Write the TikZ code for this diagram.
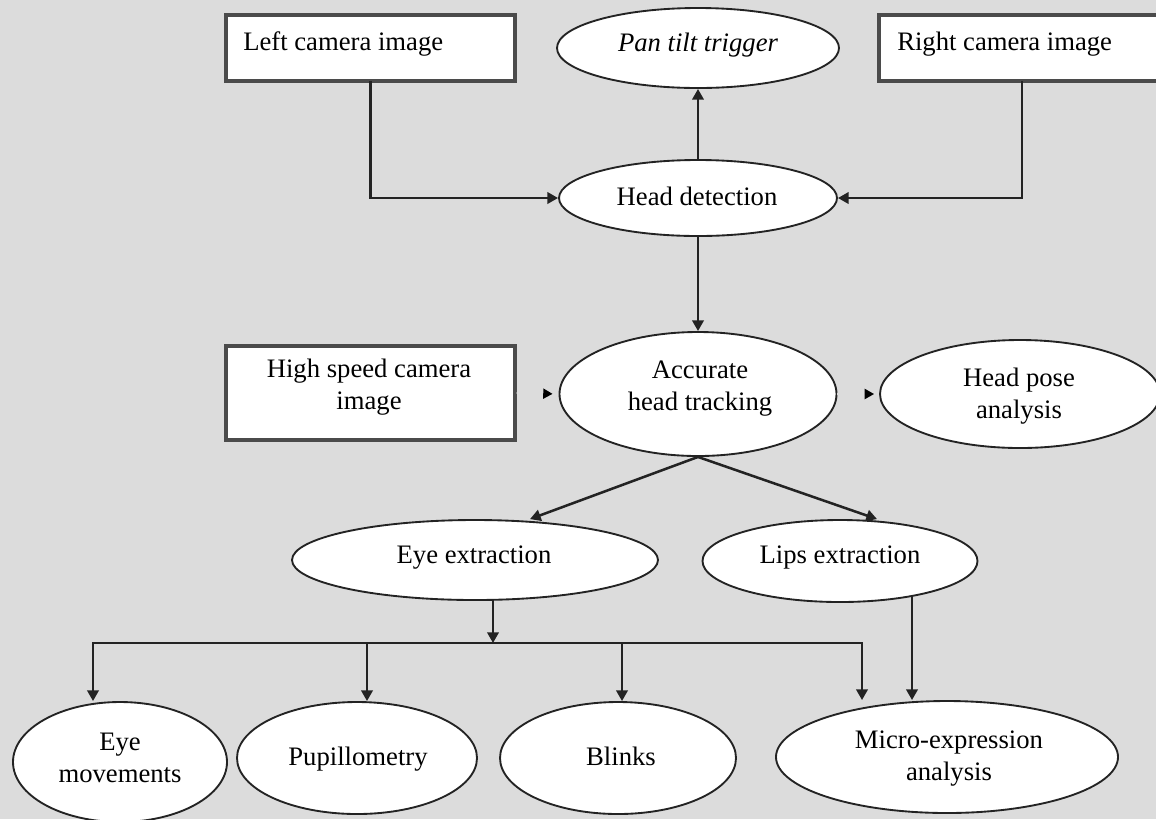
\documentclass[tikz,border=0pt]{standalone}
\usepackage{fontspec}
\setmainfont{Liberation Serif}
\usetikzlibrary{shapes.geometric,arrows.meta,calc}
\definecolor{bg}{RGB}{220,220,220}
\definecolor{ln}{RGB}{35,35,35}
\definecolor{bd}{RGB}{75,75,75}
\newcommand\upx{0.75pt}
\begin{document}
\begin{tikzpicture}[x=0.75pt,y=-0.75pt,
  ell/.style={ellipse,draw=ln,line width=1.4pt,fill=white,inner sep=0pt},
  box/.style={rectangle,draw=bd,line width=2.3pt,fill=white,inner sep=0pt},
  txt/.style={font=\fontsize{20}{23.5}\selectfont,inner sep=0pt,align=center},
  conn/.style={draw=ln,line width=1.9pt,line cap=rect},
  arr/.style={conn,-{Triangle[length=8pt,width=8.5pt]}},
  ghost/.style={draw=bg,line width=1.4pt,-{Triangle[length=7pt,width=7.5pt,color=black]}}
]
\useasboundingbox (0,0) rectangle (1156,819);
\fill[bg] (0,0) rectangle (1156,819);
\clip (0,0) rectangle (1156,819);

% boxes
\node[box,minimum width=289*\upx,minimum height=66*\upx] (lcam) at (370.5,48) {};
\node[txt,anchor=base west] (tlcam) at (243,50) {Left camera image};
\node[box,minimum width=300*\upx,minimum height=66*\upx] (rcam) at (1029,48) {};
\node[txt,anchor=base west] (trcam) at (897,50) {Right camera image};
\node[box,minimum width=289*\upx,minimum height=94*\upx] (hs) at (370.5,393) {};
\node[txt,anchor=base] (ths) at (369,409) {High speed camera\\image};

% ellipses
\node[ell,minimum width=282*\upx,minimum height=80*\upx] (pan) at (698,48) {};
\node[txt,anchor=base,font=\fontsize{20}{23.5}\selectfont\itshape] (tpan) at (698,51) {Pan tilt trigger};
\node[ell,minimum width=278*\upx,minimum height=76*\upx] (hd) at (698,198) {};
\node[txt,anchor=base] (thd) at (697,205) {Head detection};
\node[ell,minimum width=277*\upx,minimum height=124*\upx] (acc) at (698,394) {};
\node[txt,anchor=base] (tacc) at (700,410) {Accurate\\head tracking};
\node[ell,minimum width=280*\upx,minimum height=108*\upx] (pose) at (1020,394) {};
\node[txt,anchor=base] (tpose) at (1019,418) {Head pose\\analysis};
\node[ell,minimum width=366*\upx,minimum height=80*\upx] (eye) at (475,560) {};
\node[txt,anchor=base] (teye) at (474,563) {Eye extraction};
\node[ell,minimum width=275*\upx,minimum height=82*\upx] (lips) at (840,561) {};
\node[txt,anchor=base] (tlips) at (840,563) {Lips extraction};
\node[ell,minimum width=214*\upx,minimum height=120*\upx] (eyemov) at (120,762) {};
\node[txt,anchor=base] (teyemov) at (120,782) {Eye\\movements};
\node[ell,minimum width=240*\upx,minimum height=112*\upx] (pup) at (357,758) {};
\node[txt,anchor=base] (tpup) at (358,765) {Pupillometry};
\node[ell,minimum width=236*\upx,minimum height=112*\upx] (blk) at (618,758) {};
\node[txt,anchor=base] (tblk) at (621,765) {Blinks};
\node[ell,minimum width=342*\upx,minimum height=112*\upx] (micro) at (947,757) {};
\node[txt,anchor=base] (tmicro) at (949,780) {Micro-expression\\analysis};

% connectors
\draw[arr] (hd.north) -- (pan.south);
\draw[arr] (lcam.south) |- (hd.west);
\draw[arr] ($(rcam.south)+(-7,0)$) |- (hd.east);
\draw[arr] (hd.south) -- (acc.north);
\draw[ghost,shorten >=6*\upx] (hs.east) -- (acc.west);
\draw[ghost,shorten >=5*\upx] (acc.east) -- (pose.west);
\draw[arr] (acc.south) -- ($(eye.north)+(55,0)$);
\draw[arr] (acc.south) -- ($(lips.north)+(37,0)$);

\coordinate (ej) at ($(eye.south)+(18,0)$);
\coordinate (d1) at (93,643);
\coordinate (d2) at (367,643);
\coordinate (d3) at (622,643);
\coordinate (d4) at (862,643);
\draw[arr] (ej) -- (ej |- d1);
\draw[arr] (d1) -- (d4) -- (d4 |- micro.north);
\draw[arr] (d1) -- (d1 |- eyemov.north);
\draw[arr] (d2) -- (d2 |- pup.north);
\draw[arr] (d3) -- (d3 |- blk.north);
\coordinate (lj) at ($(lips.center)+(72,35)$);
\draw[arr] (lj) -- (lj |- micro.north);
\end{tikzpicture}
\end{document}
